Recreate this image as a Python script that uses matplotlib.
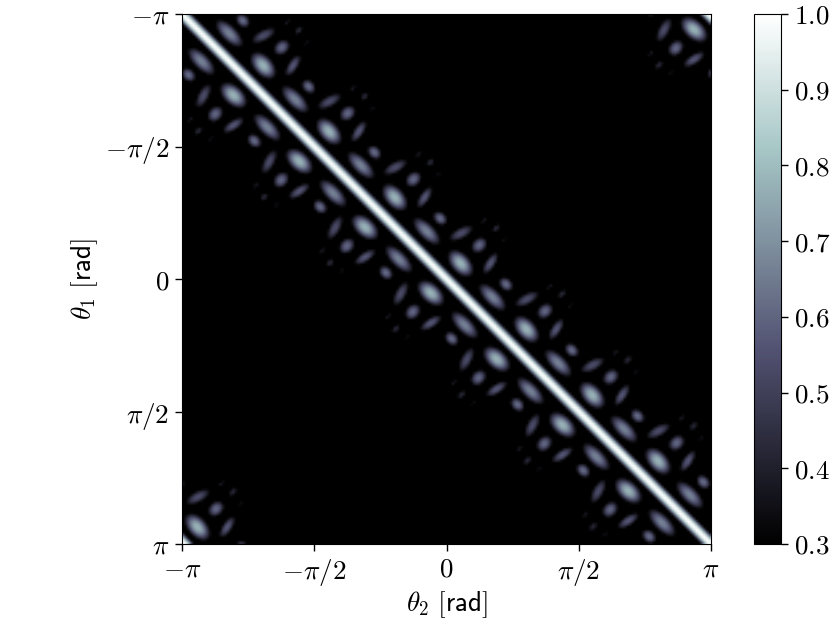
import numpy as np
import matplotlib
matplotlib.use("Agg")
import matplotlib.pyplot as plt

plt.rcParams["mathtext.fontset"] = "cm"

# one period of the pattern above the diagonal (rad)
blob_theta2 = [-0.617, -0.261, -0.075, -0.237, 0.174, 0.451, 0.593, 0.688, 0.391]
blob_theta1 = [-0.972, -0.972, -0.723, -0.569, -0.545, -0.699, -0.605, -0.462, -0.403]
blob_value = [0.78, 0.57, 0.62, 0.67, 0.54, 0.38, 0.43, 0.35, 0.61]
blob_long = [0.145, 0.130, 0.080, 0.172, 0.145, 0.072, 0.066, 0.078, 0.090]
blob_short = [0.086, 0.052, 0.060, 0.074, 0.060, 0.030, 0.042, 0.034, 0.070]
blob_angle = [48, -57, 45, 45, -28, -45, -45, -45, -43]
n_periods = 8
diag_value = 1.0
diag_width = 0.08
edge_power = 1.15

x_ticks = [-np.pi, -np.pi / 2, 0, np.pi / 2, np.pi]
x_labels = [r"$-\pi$", r"$-\pi/2$", r"$0$", r"$\pi/2$", r"$\pi$"]
cbar_ticks = [0.3, 0.4, 0.5, 0.6, 0.7, 0.8, 0.9, 1.0]


def wrap(a):
    return (a + np.pi) % (2 * np.pi) - np.pi


def add_blob(z, t2, t1, c2, c1, val, s_long, s_short, ang):
    dx = wrap(t2 - c2)
    dy = wrap(t1 - c1)
    a = np.deg2rad(ang)
    u = dx * np.cos(a) + dy * np.sin(a)
    v = -dx * np.sin(a) + dy * np.cos(a)
    r2 = 0.5 * (u / s_long) ** 2 + 0.5 * (v / s_short) ** 2
    return np.maximum(z, val * np.exp(-r2 ** edge_power))


grid = np.linspace(-np.pi, np.pi, 200)
T2, T1 = np.meshgrid(grid, grid)

Z = diag_value * np.exp(-(0.5 * (wrap(T2 - T1) / diag_width) ** 2) ** 1.1)
step = 2 * np.pi / n_periods
for k in range(n_periods):
    for i in range(len(blob_value)):
        c2 = blob_theta2[i] + k * step
        c1 = blob_theta1[i] + k * step
        Z = add_blob(Z, T2, T1, c2, c1, blob_value[i], blob_long[i], blob_short[i], blob_angle[i])
        # the picture is symmetric about the diagonal
        Z = add_blob(Z, T2, T1, c1, c2, blob_value[i], blob_long[i], blob_short[i], 90 - blob_angle[i])

fig = plt.figure(figsize=(8.3, 6.23), dpi=100)
ax = fig.add_axes([182 / 830, 1 - 544 / 623, 529 / 830, 530 / 623])
im = ax.imshow(Z, cmap="bone", vmin=0.3, vmax=1.0, extent=[-np.pi, np.pi, np.pi, -np.pi],
               aspect="auto", interpolation="bilinear")
ax.set_xticks(x_ticks)
ax.set_xticklabels(x_labels, fontsize=19.5)
ax.set_yticks(x_ticks)
ax.set_yticklabels(x_labels, fontsize=19.5)
ax.tick_params(length=5, width=1, pad=4)
ax.set_xlabel(r"$\theta_2\ \mathsf{[rad]}$", fontsize=19.5, labelpad=1)
ax.set_ylabel(r"$\theta_1\ \mathsf{[rad]}$", fontsize=19.5, labelpad=4)

cax = fig.add_axes([754 / 830, 1 - 544 / 623, 27 / 830, 530 / 623])
cb = fig.colorbar(im, cax=cax)
cb.set_ticks(cbar_ticks)
cb.set_ticklabels([f"${t:.1f}$" for t in cbar_ticks], fontsize=19.5)
cb.ax.tick_params(length=5, width=1, pad=4)

fig.savefig("out.png", dpi=100)
